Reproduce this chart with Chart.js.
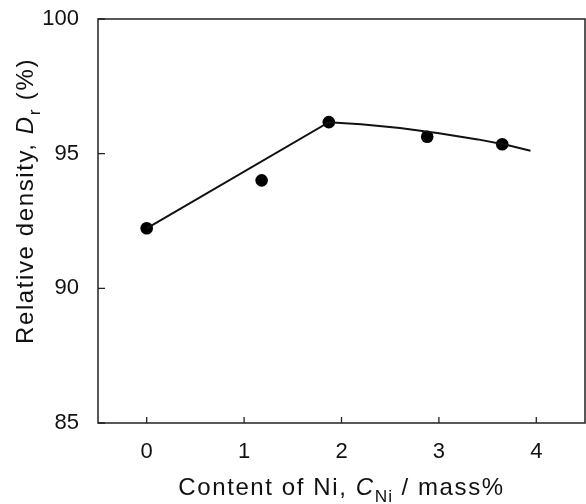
<!DOCTYPE html>
<html><head><meta charset="utf-8">
<script src="https://cdn.jsdelivr.net/npm/chart.js@4.4.0/dist/chart.umd.min.js"></script>
<style>html,body{margin:0;padding:0;background:#fff;overflow:hidden}#wrap{width:586px;height:504px;position:relative}</style>
</head><body><div id="wrap"><canvas id="c"></canvas></div>
<script>
const niContent = [0, 1.18, 1.87, 2.88, 3.65];
const relDensity = [92.23, 94.01, 96.17, 95.63, 95.35];
const fitX = [0, 1.87, 2.2, 2.6, 3.0, 3.4, 3.7, 3.94];
const fitY = [92.23, 96.17, 96.09, 95.95, 95.76, 95.53, 95.32, 95.11];
const xTicks = [0, 1, 2, 3, 4];
const yTicks = [85, 90, 95, 100];
const xTitle = [{t:'Content of Ni, '},{t:'C',it:true},{t:'Ni',sub:true},{t:' / mass%'}];
const yTitle = [{t:'Relative density, '},{t:'D',it:true},{t:'r',sub:true},{t:' (%)'}];

const FONT = '"Liberation Sans", Arial, Helvetica, sans-serif';
const INK = '#111';
const TITLE_SIZE = 24;
const SPACING = 1.6;

function setFont(ctx, s, size){
  const fs = s.sub ? size*0.72 : size;
  ctx.font = (s.it?'italic ':'') + fs + 'px ' + FONT;
  if ('letterSpacing' in ctx) ctx.letterSpacing = (s.sub ? SPACING*0.7 : SPACING) + 'px';
}
function richWidth(ctx, segs, size){
  let w = 0;
  for (const s of segs){ setFont(ctx, s, size); w += ctx.measureText(s.t).width; }
  return w;
}
function drawRich(ctx, segs, size, cx, baseY){
  const w = richWidth(ctx, segs, size);
  let x = cx - w/2;
  ctx.textAlign = 'left';
  ctx.textBaseline = 'alphabetic';
  ctx.fillStyle = INK;
  for (const s of segs){
    setFont(ctx, s, size);
    ctx.fillText(s.t, x, baseY + (s.sub ? size*0.3 : 0));
    x += ctx.measureText(s.t).width;
  }
  if ('letterSpacing' in ctx) ctx.letterSpacing = '0px';
}

const framePlugin = {
  id: 'frame',
  afterDraw(chart){
    const {ctx, chartArea:a, scales} = chart;
    ctx.save();
    ctx.strokeStyle = '#222';
    ctx.lineWidth = 1.5;
    ctx.strokeRect(a.left, a.top, a.right - a.left, a.bottom - a.top);
    ctx.lineWidth = 1.3;
    ctx.beginPath();
    for (const v of xTicks){
      const px = scales.x.getPixelForValue(v);
      ctx.moveTo(px, a.bottom); ctx.lineTo(px, a.bottom - 6);
    }
    for (const v of yTicks){
      const py = scales.y.getPixelForValue(v);
      ctx.moveTo(a.left, py); ctx.lineTo(a.left + 7, py);
    }
    ctx.stroke();
    drawRich(ctx, xTitle, TITLE_SIZE, (a.left + a.right)/2, 495);
    ctx.translate(33, 201);
    ctx.rotate(-Math.PI/2);
    drawRich(ctx, yTitle, TITLE_SIZE, 0, 0);
    ctx.restore();
  }
};

function zeroPad(s){ s.paddingTop = 0; s.paddingBottom = 0; s.paddingLeft = 0; s.paddingRight = 0; }

new Chart(document.getElementById('c'), {
  type: 'scatter',
  data: {
    datasets: [
      { label: 'fit', data: fitX.map((x,i)=>({x, y: fitY[i]})), showLine: true, borderColor: INK, borderWidth: 2, pointRadius: 0, tension: 0, fill: false },
      { label: 'data', data: niContent.map((x,i)=>({x, y: relDensity[i]})), showLine: false, pointRadius: 6.3, pointBackgroundColor: '#000', pointBorderColor: '#000', pointBorderWidth: 0 }
    ]
  },
  options: {
    responsive: true, maintainAspectRatio: false, animation: false, devicePixelRatio: 1,
    layout: { autoPadding: false, padding: { top: 19, right: 1, left: 0, bottom: 0 } },
    plugins: { legend: { display: false }, tooltip: { enabled: false } },
    scales: {
      x: {
        type: 'linear', min: -0.5, max: 4.5,
        afterBuildTicks: s => { s.ticks = xTicks.map(v => ({value: v})); },
        afterFit: s => { s.height = 81; zeroPad(s); },
        grid: { display: false }, border: { display: false },
        ticks: { color: INK, font: { family: FONT, size: 22 }, padding: 8, maxRotation: 0, autoSkip: false }
      },
      y: {
        type: 'linear', min: 85, max: 100,
        afterBuildTicks: s => { s.ticks = yTicks.map(v => ({value: v})); },
        afterFit: s => { s.width = 98; zeroPad(s); },
        grid: { display: false }, border: { display: false },
        ticks: { color: INK, font: { family: FONT, size: 22 }, padding: 11, autoSkip: false }
      }
    }
  },
  plugins: [framePlugin]
});
</script>
</body></html>
